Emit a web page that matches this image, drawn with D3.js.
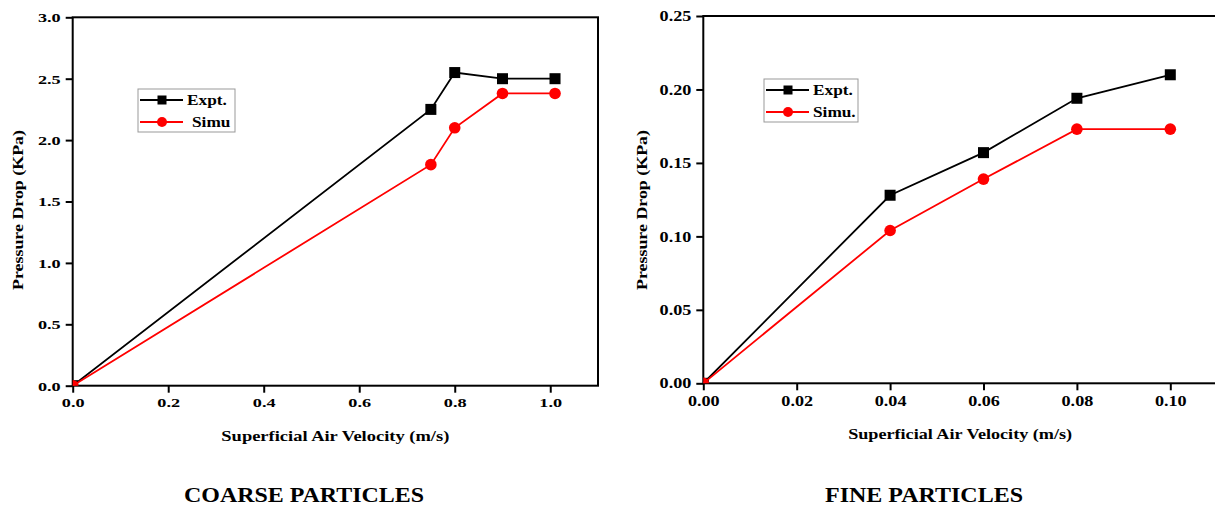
<!DOCTYPE html>
<html>
<head>
<meta charset="utf-8">
<script src="https://cdn.jsdelivr.net/npm/d3@7"></script>
<style>
  body { margin: 0; background: #fff; }
  svg { display: block; }
</style>
</head>
<body>
<div id="chart"></div>
<script>
// Coarse particles
const coarseVelocity = [0, 0.75, 0.8, 0.9, 1.01];
const coarseExpt = [0, 2.25, 2.55, 2.5, 2.5];
const coarseSimu = [0, 1.8, 2.1, 2.38, 2.38];
const coarseXTicks = [0, 0.2, 0.4, 0.6, 0.8, 1.0];
const coarseYTicks = [0, 0.5, 1.0, 1.5, 2.0, 2.5, 3.0];
const coarseLegend = ['Expt.', 'Simu'];

// Fine particles
const fineVelocity = [0, 0.04, 0.06, 0.08, 0.10];
const fineExpt = [0, 0.128, 0.157, 0.194, 0.21];
const fineSimu = [0, 0.104, 0.139, 0.173, 0.173];
const fineXTicks = [0, 0.02, 0.04, 0.06, 0.08, 0.10];
const fineYTicks = [0, 0.05, 0.10, 0.15, 0.20, 0.25];
const fineLegend = ['Expt.', 'Simu.'];

const xTitle = 'Superficial Air Velocity (m/s)';
const yTitle = 'Pressure Drop (KPa)';
const captions = ['COARSE PARTICLES', 'FINE PARTICLES'];

const FONT = '"Liberation Serif", "Times New Roman", Times, serif';

const svg = d3.select('#chart').append('svg')
    .attr('width', 1215)
    .attr('height', 509);

// bold serif text, same as the source figure
function serif(sel, size) {
    sel.attr('font-family', null)
        .style('font-family', FONT)
        .style('font-weight', 'bold')
        .style('font-size', size + 'px')
        .attr('fill', '#000');
}

// stretch text horizontally like the source image
function stretch(sel, k) {
    sel.each(function () {
        const w = this.getComputedTextLength();
        this.setAttribute('textLength', w * k);
        this.setAttribute('lengthAdjust', 'spacingAndGlyphs');
    });
}

function drawChart(cfg) {
    const x = d3.scaleLinear().domain(cfg.xDomain).range([cfg.left, cfg.right]);
    const y = d3.scaleLinear().domain(cfg.yDomain).range([cfg.bottom, cfg.top]);

    const g = svg.append('g');

    g.append('clipPath').attr('id', cfg.id + '-clip')
        .append('rect')
        .attr('x', cfg.left).attr('y', cfg.top)
        .attr('width', cfg.right - cfg.left).attr('height', cfg.bottom - cfg.top);

    // axes
    const xAxis = g.append('g')
        .attr('transform', `translate(0,${cfg.bottom})`)
        .call(d3.axisBottom(x).tickValues(cfg.xTicks).tickFormat(d3.format(cfg.fmtX)).tickSize(7).tickPadding(5));
    const yAxis = g.append('g')
        .attr('transform', `translate(${cfg.left},0)`)
        .call(d3.axisLeft(y).tickValues(cfg.yTicks).tickFormat(d3.format(cfg.fmtY)).tickSize(7).tickPadding(5));

    [xAxis, yAxis].forEach(a => {
        a.attr('font-family', null).attr('font-size', null);
        a.select('.domain').remove();
        a.selectAll('.tick line').attr('stroke', '#000').attr('stroke-width', 2);
        a.selectAll('.tick text')
            .call(serif, cfg.tickFont)
            .call(stretch, cfg.tickStretch);
    });

    // frame
    g.append('rect')
        .attr('x', cfg.left).attr('y', cfg.top)
        .attr('width', cfg.right - cfg.left).attr('height', cfg.bottom - cfg.top)
        .attr('fill', 'none').attr('stroke', '#000').attr('stroke-width', 2);

    const plot = g.append('g').attr('clip-path', `url(#${cfg.id}-clip)`);

    const series = [
        { vals: cfg.expt, color: '#000', shape: 'square' },
        { vals: cfg.simu, color: '#f00', shape: 'circle' }
    ];

    series.forEach(s => {
        const pts = cfg.vel.map((v, i) => [v, s.vals[i]]);
        plot.append('path')
            .datum(pts)
            .attr('fill', 'none')
            .attr('stroke', s.color)
            .attr('stroke-width', 1.8)
            .attr('d', d3.line().x(d => x(d[0])).y(d => y(d[1])));
        if (s.shape === 'square') {
            plot.selectAll(null).data(pts).enter().append('rect')
                .attr('x', d => x(d[0]) - 5.5).attr('y', d => y(d[1]) - 5.5)
                .attr('width', 11).attr('height', 11)
                .attr('fill', s.color);
        } else {
            plot.selectAll(null).data(pts).enter().append('circle')
                .attr('cx', d => x(d[0])).attr('cy', d => y(d[1]))
                .attr('r', 5.8)
                .attr('fill', s.color);
        }
    });

    // axis titles
    g.append('text')
        .attr('x', (cfg.left + cfg.right) / 2).attr('y', cfg.xTitleY)
        .attr('text-anchor', 'middle')
        .text(xTitle)
        .call(serif, 15)
        .attr('textLength', cfg.xTitleLen).attr('lengthAdjust', 'spacingAndGlyphs');

    g.append('text')
        .attr('transform', `translate(${cfg.yTitleX},210) rotate(-90)`)
        .attr('text-anchor', 'middle')
        .text(yTitle)
        .call(serif, 14.5)
        .attr('textLength', 160).attr('lengthAdjust', 'spacingAndGlyphs');

    // legend
    const lg = g.append('g').attr('transform', `translate(${cfg.legX},${cfg.legY})`);
    lg.append('rect')
        .attr('width', cfg.legW).attr('height', 43)
        .attr('fill', '#fff').attr('stroke', '#999').attr('stroke-width', 1);
    series.forEach((s, i) => {
        const cy = 11 + i * 22;
        lg.append('line')
            .attr('x1', 2).attr('x2', 45).attr('y1', cy).attr('y2', cy)
            .attr('stroke', s.color).attr('stroke-width', 1.8);
        if (s.shape === 'square') {
            lg.append('rect').attr('x', 24 - 4.5).attr('y', cy - 4.5)
                .attr('width', 9).attr('height', 9).attr('fill', s.color);
        } else {
            lg.append('circle').attr('cx', 24).attr('cy', cy).attr('r', 5).attr('fill', s.color);
        }
        lg.append('text')
            .attr('x', 49 + (cfg.legend[i] === 'Simu' ? 5 : 0)).attr('y', cy + 5)
            .text(cfg.legend[i])
            .call(serif, 15)
            .call(stretch, 1.15);
    });

    // caption
    g.append('text')
        .attr('x', cfg.capX).attr('y', 502)
        .attr('text-anchor', 'middle')
        .text(cfg.caption)
        .call(serif, 21)
        .attr('textLength', cfg.capLen).attr('lengthAdjust', 'spacingAndGlyphs');
}

drawChart({
    id: 'coarse',
    left: 72.7, right: 598, top: 17.3, bottom: 385.7,
    xDomain: [0, 1.1], yDomain: [0, 3],
    xTicks: coarseXTicks, yTicks: coarseYTicks, fmtX: '.1f', fmtY: '.1f',
    tickFont: 13.5, tickStretch: 1.35,
    vel: coarseVelocity, expt: coarseExpt, simu: coarseSimu,
    legend: coarseLegend, legX: 138, legY: 89, legW: 97,
    xTitleY: 441, xTitleLen: 228, yTitleX: 23,
    caption: captions[0], capX: 304, capLen: 240
});

drawChart({
    id: 'fine',
    left: 703.3, right: 1217, top: 16, bottom: 383.3,
    xDomain: [0, 0.11], yDomain: [0, 0.25],
    xTicks: fineXTicks, yTicks: fineYTicks, fmtX: '.2f', fmtY: '.2f',
    tickFont: 14.5, tickStretch: 1.25,
    vel: fineVelocity, expt: fineExpt, simu: fineSimu,
    legend: fineLegend, legX: 764, legY: 79, legW: 94,
    xTitleY: 439, xTitleLen: 224, yTitleX: 647,
    caption: captions[1], capX: 924, capLen: 198
});
</script>
</body>
</html>
